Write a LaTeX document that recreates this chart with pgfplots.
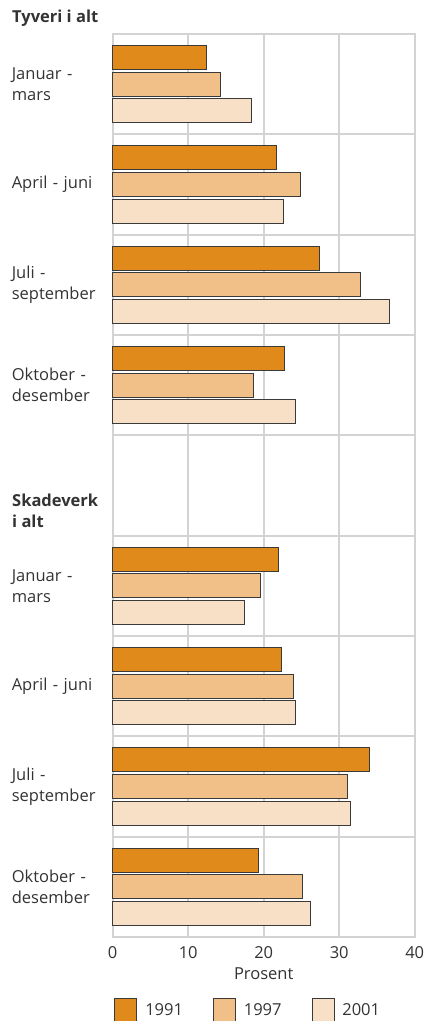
\documentclass[border=0pt]{standalone}
\usepackage{fontspec}
\setmainfont{Open Sans}
\usepackage{pgfplots}
\pgfplotsset{compat=1.18}
\definecolor{c1}{HTML}{E08A1B}
\definecolor{c2}{HTML}{F0C088}
\definecolor{c3}{HTML}{F8E0C6}
\definecolor{gridc}{HTML}{D3D3D3}
\definecolor{txt}{HTML}{333333}
\definecolor{edge}{HTML}{3A3A3A}
\newcommand{\lf}{\fontsize{16.5}{21}\selectfont}
\begin{document}
\begin{tikzpicture}
\begin{axis}[
  at={(112.7pt,84pt)}, anchor=south west,
  scale only axis, width=302pt, height=903pt,
  xbar, y dir=reverse,
  xmin=0, xmax=40, ymin=-0.5, ymax=8.5,
  xtick={0,10,20,30,40},
  /pgf/number format/assume math mode=true,
  ytick={0,1,2,3,5,6,7,8},
  yticklabels={{Januar -\\mars}, {April - juni}, {Juli -\\september}, {Oktober -\\desember}, {Januar -\\mars}, {April - juni}, {Juli -\\september}, {Oktober -\\desember}},
  yticklabel style={align=left, text width=100.7pt, inner sep=0pt, anchor=east, font=\lf, text=txt},
  xticklabel style={anchor=center, yshift=-16pt, font=\lf, text=txt},
  minor ytick={-0.5,0.5,...,8.5},
  yminorgrids=true, xmajorgrids=true,
  grid style={gridc, line width=2pt},
  minor grid style={gridc, line width=2pt},
  axis line style={gridc, line width=2pt},
  major tick length=0pt, minor tick length=0pt,
  tick style={draw=none},
  xlabel={Prosent},
  xlabel style={at={(axis description cs:0.5,0)}, anchor=center, yshift=-37pt, font=\lf, text=txt},
  bar width=24pt,
  clip=false,
  legend columns=3,
  legend style={at={(axis description cs:0.449,-0.0808)}, anchor=center, draw=none, fill=none, font=\lf, text=txt,
    /tikz/every odd column/.append style={column sep=6pt},
    /tikz/every even column/.append style={column sep=28pt}},
  legend image code/.code={\draw[#1, line width=0.8pt] (0pt,-11.5pt) rectangle (22pt,11.5pt);},
]
\addplot[fill=c1, draw=edge, line width=0.8pt, bar shift=26.7pt] coordinates {
(12.4,0) (21.7,1) (27.4,2) (22.7,3) (22.0,5) (22.4,6) (34.0,7) (19.3,8)};
\addplot[fill=c2, draw=edge, line width=0.8pt, bar shift=0pt] coordinates {
(14.3,0) (24.8,1) (32.8,2) (18.6,3) (19.6,5) (24.0,6) (31.1,7) (25.1,8)};
\addplot[fill=c3, draw=edge, line width=0.8pt, bar shift=-26.7pt] coordinates {
(18.4,0) (22.6,1) (36.7,2) (24.2,3) (17.4,5) (24.2,6) (31.5,7) (26.2,8)};
\legend{1991,1997,2001}
\end{axis}
\node[anchor=west, inner sep=0pt, font=\lf\bfseries, text=txt] at (12pt,1003pt) {Tyveri i alt};
\node[anchor=west, inner sep=0pt, align=left, font=\lf\bfseries, text=txt] at (12pt,510pt) {Skadeverk\\i alt};
\pgfresetboundingbox
\path (0pt,0pt) rectangle (426pt,1021pt);
\end{tikzpicture}
\end{document}
